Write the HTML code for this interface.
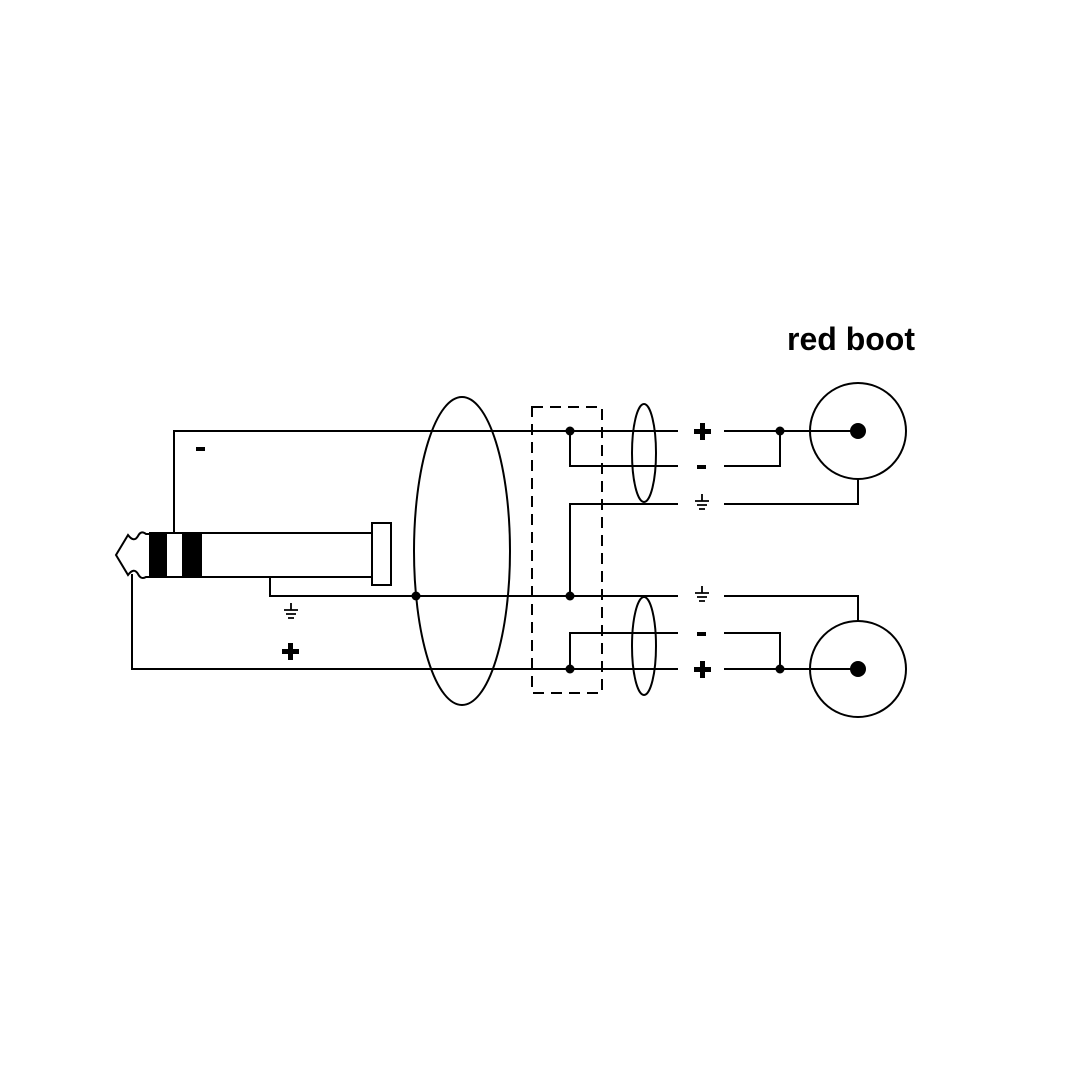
<!DOCTYPE html>
<html><head><style>html,body{margin:0;background:#fff}svg{display:block}</style></head>
<body>
<svg width="1080" height="1080" viewBox="0 0 1080 1080" xmlns="http://www.w3.org/2000/svg">
<g fill="none" stroke="#000" stroke-width="2">
<!-- plug -->
<path d="M150,534 L146,534 Q141,530 138,536 Q134,543 128,535 L116,555 L128,575 Q134,567 138,574 Q141,580 146,577 L150,577"/>
<rect x="150" y="533" width="222" height="44"/>
<rect x="372" y="523" width="19" height="62"/>
<!-- wires left -->
<polyline points="174,533 174,431 678,431"/>
<polyline points="270,577 270,596 678,596"/>
<polyline points="132,574 132,669 678,669"/>
<ellipse cx="462" cy="551" rx="48" ry="154"/>
<rect x="532" y="407" width="70" height="286" stroke-dasharray="11,7"/>
<polyline points="570,431 570,466 678,466"/>
<polyline points="678,504 570,504 570,596"/>
<polyline points="570,669 570,633 678,633"/>
<ellipse cx="644" cy="453" rx="12" ry="49"/>
<ellipse cx="644" cy="646" rx="12" ry="49"/>
<!-- right -->
<line x1="724" y1="431" x2="858" y2="431"/>
<polyline points="724,466 780,466 780,431"/>
<polyline points="724,504 858,504 858,479"/>
<circle cx="858" cy="431" r="48"/>
<polyline points="724,596 858,596 858,621"/>
<polyline points="724,633 780,633 780,669"/>
<line x1="724" y1="669" x2="858" y2="669"/>
<circle cx="858" cy="669" r="48"/>
<!-- ground symbols -->
<g stroke-width="1.8">
<path d="M291,603v7 M284,610h14 M286,614h10 M288,618h6"/>
<path d="M702,494v7 M695,501h14 M697,505h10 M699,509h6"/>
<path d="M702,586v7 M695,593h14 M697,597h10 M699,601h6"/>
</g>
</g>
<g fill="#000">
<rect x="150" y="533" width="17" height="44"/>
<rect x="182" y="533" width="20" height="44"/>
<circle cx="416" cy="596" r="4.5"/>
<circle cx="570" cy="431" r="4.5"/>
<circle cx="570" cy="596" r="4.5"/>
<circle cx="570" cy="669" r="4.5"/>
<circle cx="780" cy="431" r="4.5"/>
<circle cx="780" cy="669" r="4.5"/>
<circle cx="858" cy="431" r="8"/>
<circle cx="858" cy="669" r="8"/>
<rect x="196" y="447" width="9" height="4"/>
<rect x="697" y="465" width="9" height="4"/>
<rect x="697" y="632" width="9" height="4"/>
<path d="M288,643h5v6h6v5h-6v6h-5v-6h-6v-5h6z"/>
<path d="M700,423h5v6h6v5h-6v6h-5v-6h-6v-5h6z"/>
<path d="M700,661h5v6h6v5h-6v6h-5v-6h-6v-5h6z"/>
</g>
<text x="787" y="350" font-family="Liberation Sans, sans-serif" font-weight="bold" font-size="32">red boot</text>
</svg>
</body></html>
